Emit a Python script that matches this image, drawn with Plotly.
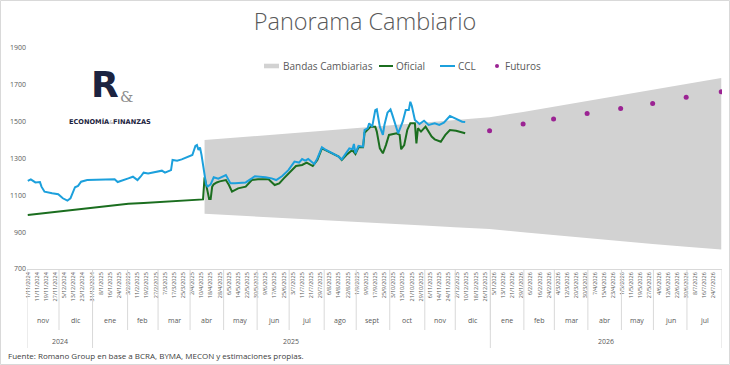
import numpy as np
import plotly.graph_objects as go

# ---------------- DATA ----------------
start_day = "2024-11-01"

tick_labels = [
    "1/11/2024", "11/11/2024", "19/11/2024", "27/11/2024", "5/12/2024", "13/12/2024", "23/12/2024", "31/12/2024",
    "8/1/2025", "16/1/2025", "24/1/2025", "3/2/2025", "11/2/2025", "19/2/2025", "27/2/2025", "7/3/2025",
    "17/3/2025", "25/3/2025", "2/4/2025", "10/4/2025", "18/4/2025", "28/4/2025", "6/5/2025", "14/5/2025",
    "22/5/2025", "30/5/2025", "9/6/2025", "17/6/2025", "25/6/2025", "3/7/2025", "11/7/2025", "21/7/2025",
    "29/7/2025", "6/8/2025", "14/8/2025", "22/8/2025", "1/9/2025", "9/9/2025", "17/9/2025", "25/9/2025",
    "3/10/2025", "13/10/2025", "21/10/2025", "29/10/2025", "6/11/2025", "14/11/2025", "24/11/2025", "2/12/2025",
    "10/12/2025", "18/12/2025", "26/12/2025", "5/1/2026", "13/1/2026", "21/1/2026", "29/1/2026", "6/2/2026",
    "16/2/2026", "24/2/2026", "4/3/2026", "12/3/2026", "20/3/2026", "30/3/2026", "7/4/2026", "15/4/2026",
    "23/4/2026", "1/5/2026", "11/5/2026", "19/5/2026", "27/5/2026", "4/6/2026", "12/6/2026", "22/6/2026",
    "30/6/2026", "8/7/2026", "16/7/2026", "24/7/2026",
]

month_labels = ["nov", "dic", "ene", "feb", "mar", "abr", "may", "jun", "jul", "ago", "sept", "oct",
                "nov", "dic", "ene", "feb", "mar", "abr", "may", "jun", "jul"]
month_starts = ["2024-11-01", "2024-12-01", "2025-01-01", "2025-02-01", "2025-03-01", "2025-04-01",
                "2025-05-01", "2025-06-01", "2025-07-01", "2025-08-01", "2025-09-01", "2025-10-01",
                "2025-11-01", "2025-12-01", "2026-01-01", "2026-02-01", "2026-03-01", "2026-04-01",
                "2026-05-01", "2026-06-01", "2026-07-01"]
axis_end = "2026-08-01"
year_labels = ["2024", "2025", "2026"]
year_starts = ["2024-11-01", "2025-01-01", "2026-01-01"]

oficial_dates = [
    "2024-11-01", "2024-11-15", "2024-12-02", "2024-12-16", "2025-01-02", "2025-01-16", "2025-02-03",
    "2025-02-17", "2025-03-03", "2025-03-17", "2025-04-01", "2025-04-11",
    "2025-04-14", "2025-04-15", "2025-04-16", "2025-04-17", "2025-04-18", "2025-04-21", "2025-04-22",
    "2025-04-24", "2025-04-28", "2025-05-02", "2025-05-06", "2025-05-08", "2025-05-14", "2025-05-21",
    "2025-05-27", "2025-06-02", "2025-06-11", "2025-06-17", "2025-06-20", "2025-06-25", "2025-06-30",
    "2025-07-07", "2025-07-11", "2025-07-16", "2025-07-22", "2025-07-25", "2025-07-30", "2025-08-08",
    "2025-08-14", "2025-08-18", "2025-08-21", "2025-08-27", "2025-08-29", "2025-09-02", "2025-09-05",
    "2025-09-08", "2025-09-10", "2025-09-12", "2025-09-17", "2025-09-18", "2025-09-22", "2025-09-24",
    "2025-09-26", "2025-09-30", "2025-10-07", "2025-10-09", "2025-10-10", "2025-10-14", "2025-10-16",
    "2025-10-20", "2025-10-23", "2025-10-24", "2025-10-27", "2025-10-29", "2025-11-03", "2025-11-07",
    "2025-11-11", "2025-11-17", "2025-11-20", "2025-11-25", "2025-12-01", "2025-12-05", "2025-12-09",
]
oficial_values = [
    993, 1002, 1013, 1022, 1035, 1044, 1054, 1059, 1064, 1069, 1074, 1078,
    1198, 1165, 1120, 1080, 1080, 1147, 1160, 1170, 1176, 1183, 1156, 1120, 1138, 1147,
    1183, 1187, 1187, 1156, 1165, 1192, 1219, 1259, 1265, 1278, 1259, 1292, 1355, 1324,
    1310, 1292, 1319, 1346, 1324, 1361, 1361, 1440, 1458, 1473, 1473, 1446, 1355, 1328,
    1373, 1428, 1437, 1428, 1350, 1373, 1455, 1491, 1491, 1382, 1464, 1446, 1473, 1419,
    1404, 1391, 1428, 1455, 1451, 1440, 1437,
]

ccl_dates = [
    "2024-11-01", "2024-11-05", "2024-11-08", "2024-11-13", "2024-11-14", "2024-11-18", "2024-11-25",
    "2024-11-29", "2024-12-04", "2024-12-09", "2024-12-11", "2024-12-12", "2024-12-16", "2024-12-18",
    "2024-12-20", "2024-12-26", "2025-01-03", "2025-01-13", "2025-01-21", "2025-01-23", "2025-01-28",
    "2025-02-03", "2025-02-06", "2025-02-11", "2025-02-13", "2025-02-17", "2025-02-20", "2025-02-27",
    "2025-03-05", "2025-03-07", "2025-03-13", "2025-03-14", "2025-03-19", "2025-03-24", "2025-03-28",
    "2025-04-02", "2025-04-04", "2025-04-07", "2025-04-08", "2025-04-09", "2025-04-10", "2025-04-11",
    "2025-04-14", "2025-04-15", "2025-04-16", "2025-04-18", "2025-04-22", "2025-04-25", "2025-05-02",
    "2025-05-06", "2025-05-07", "2025-05-12", "2025-05-21", "2025-05-27", "2025-05-29", "2025-06-09",
    "2025-06-13", "2025-06-18", "2025-06-24", "2025-06-30", "2025-07-04", "2025-07-09", "2025-07-11",
    "2025-07-15", "2025-07-17", "2025-07-23", "2025-07-25", "2025-07-30", "2025-08-01", "2025-08-08",
    "2025-08-14", "2025-08-18", "2025-08-20", "2025-08-25", "2025-08-27", "2025-08-28", "2025-08-29",
    "2025-09-02", "2025-09-05", "2025-09-08", "2025-09-10", "2025-09-11", "2025-09-15", "2025-09-17",
    "2025-09-18", "2025-09-22", "2025-09-24", "2025-09-25", "2025-09-29", "2025-10-01", "2025-10-02",
    "2025-10-06", "2025-10-08", "2025-10-13", "2025-10-15", "2025-10-17", "2025-10-20", "2025-10-21",
    "2025-10-23", "2025-10-28", "2025-10-31", "2025-11-05", "2025-11-11", "2025-11-14", "2025-11-19",
    "2025-11-25", "2025-11-27", "2025-12-02", "2025-12-05", "2025-12-09",
]
ccl_values = [
    1179, 1187, 1170, 1172, 1147, 1120, 1111, 1106, 1084, 1071, 1084, 1102, 1144, 1151,
    1174, 1183, 1183, 1187, 1187, 1172, 1179, 1192, 1201, 1183, 1201, 1223, 1219, 1228,
    1234, 1223, 1237, 1292, 1288, 1295, 1310, 1319, 1368, 1373, 1346, 1360, 1320, 1260,
    1195, 1160, 1148, 1160, 1198, 1190, 1210, 1183, 1165, 1165, 1170, 1192, 1204, 1198,
    1192, 1183, 1205, 1237, 1283, 1278, 1297, 1288, 1297, 1270, 1300, 1361, 1350, 1328,
    1310, 1295, 1319, 1355, 1350, 1379, 1328, 1368, 1364, 1455, 1464, 1491, 1473, 1563,
    1567, 1473, 1428, 1482, 1549, 1567, 1542, 1491, 1437, 1500, 1563, 1563, 1608, 1585,
    1509, 1487, 1505, 1482, 1491, 1482, 1494, 1531, 1524, 1513, 1500, 1498,
]

band_dates = ["2025-04-14", "2025-04-30", "2025-05-30", "2025-06-30", "2025-07-31", "2025-08-29",
              "2025-09-30", "2025-10-31", "2025-11-28", "2025-12-31", "2026-01-30", "2026-02-27",
              "2026-03-31", "2026-04-30", "2026-05-29", "2026-06-30", "2026-07-31"]
band_upper = [1400, 1407, 1421, 1436, 1451, 1465, 1479, 1494, 1508, 1524, 1553, 1582, 1612, 1642,
              1673, 1705, 1737]
band_lower = [1000, 995, 985, 975, 965, 956, 946, 936, 927, 917, 900, 884, 868, 852, 836, 821, 806]

futuros_dates = ["2025-12-31", "2026-01-30", "2026-02-27", "2026-03-31", "2026-04-30", "2026-05-29",
                 "2026-06-30", "2026-07-31"]
futuros_values = [1451, 1487, 1514, 1545, 1572, 1599, 1632, 1662]

y_ticks = [700, 900, 1100, 1300, 1500, 1700, 1900]

series_names = ["Bandas Cambiarias", "Oficial", "CCL", "Futuros"]
series_colors = ["#D2D2D2", "#1B6E1F", "#1CA0DC", "#9B2393"]


# ---------------- HELPERS ----------------
def bidx(dates):
    """Position on the weekday category axis (one slot per weekday)."""
    return np.busday_count(np.datetime64(start_day), np.array(dates, dtype="datetime64[D]"))


def parse_dmy(s):
    d, m, y = s.split("/")
    return f"{y}-{int(m):02d}-{int(d):02d}"


tick_vals = bidx([parse_dmy(s) for s in tick_labels])
n_slots = int(bidx([axis_end])[0])  # number of weekday categories

GREY_TXT = "#595959"
AX_LINE = "#D9D9D9"

# plot area geometry in pixels
W, H = 730, 365
ML, MR, MT, MB = 27, 8, 48, 96
PW, PH = W - ML - MR, H - MT - MB


def px_x(px):
    return (px - ML) / PW


def px_y(py):
    return (H - MB - py) / PH


C_BAND, C_OF, C_CCL, C_FUT = series_colors

fig = go.Figure()

# Bands (lower invisible, upper filled down to it)
fig.add_trace(go.Scatter(x=bidx(band_dates), y=band_lower, mode="lines",
                         line=dict(width=0, color=C_BAND), showlegend=False, hoverinfo="skip"))
fig.add_trace(go.Scatter(x=bidx(band_dates), y=band_upper, mode="lines", fill="tonexty",
                         fillcolor=C_BAND, line=dict(width=0, color=C_BAND),
                         name=series_names[0], showlegend=False))
fig.add_trace(go.Scatter(x=bidx(oficial_dates), y=oficial_values, mode="lines",
                         line=dict(color=C_OF, width=2), name=series_names[1], showlegend=False))
fig.add_trace(go.Scatter(x=bidx(ccl_dates), y=ccl_values, mode="lines",
                         line=dict(color=C_CCL, width=2), name=series_names[2], showlegend=False))
fig.add_trace(go.Scatter(x=bidx(futuros_dates), y=futuros_values, mode="markers",
                         marker=dict(color=C_FUT, size=5), name=series_names[3], showlegend=False))

shapes = []
annotations = []

# month separators + labels
m_first = bidx(month_starts)
m_next = list(m_first[1:]) + [n_slots]
for lab, f, nx in zip(month_labels, m_first, m_next):
    annotations.append(dict(x=(f + nx - 1) / 2, y=px_y(320), xref="x", yref="paper", text=lab,
                            xanchor="center", yanchor="middle",
                            showarrow=False, font=dict(size=7, color=GREY_TXT)))
for f in m_first[1:]:
    shapes.append(dict(type="line", xref="x", yref="paper", x0=f - 0.5, x1=f - 0.5,
                       y0=px_y(269), y1=px_y(330), line=dict(color=AX_LINE, width=1)))

# year separators + labels
y_first = bidx(year_starts)
y_next = list(y_first[1:]) + [n_slots]
for lab, f, nx in zip(year_labels, y_first, y_next):
    annotations.append(dict(x=(f + nx - 1) / 2, y=px_y(341), xref="x", yref="paper", text=lab,
                            xanchor="center", yanchor="middle",
                            showarrow=False, font=dict(size=7, color=GREY_TXT)))
for f in list(y_first) + [n_slots]:
    shapes.append(dict(type="line", xref="x", yref="paper", x0=f - 0.5, x1=f - 0.5,
                       y0=px_y(269), y1=px_y(348), line=dict(color=AX_LINE, width=1)))

# legend (drawn as swatches + text, laid out like the original)
LEG_Y = 66
leg_items = [  # (kind, swatch x0, swatch x1, text left)
    ("box", 264, 279, 281),
    ("line", 379, 393, 393.5),
    ("line", 440, 455, 456),
    ("dot", 495, 499, 503),
]
for (kind, sx0, sx1, tx), name, col in zip(leg_items, series_names, series_colors):
    if kind == "box":
        shapes.append(dict(type="rect", xref="paper", yref="paper", x0=px_x(sx0), x1=px_x(sx1),
                           y0=px_y(LEG_Y + 2.3), y1=px_y(LEG_Y - 2.3), fillcolor=col, line=dict(width=0)))
    elif kind == "line":
        shapes.append(dict(type="line", xref="paper", yref="paper", x0=px_x(sx0), x1=px_x(sx1),
                           y0=px_y(LEG_Y), y1=px_y(LEG_Y), line=dict(color=col, width=2)))
    else:
        shapes.append(dict(type="circle", xref="paper", yref="paper", x0=px_x(sx0), x1=px_x(sx1),
                           y0=px_y(LEG_Y + 2), y1=px_y(LEG_Y - 2), fillcolor=col, line=dict(width=0)))
    annotations.append(dict(x=px_x(tx), y=px_y(LEG_Y), xref="paper", yref="paper", text=name,
                            xanchor="left", yanchor="middle", showarrow=False,
                            font=dict(size=10, color=GREY_TXT)))

# chart border
shapes.append(dict(type="rect", xref="paper", yref="paper", x0=px_x(0.5), x1=px_x(729.5),
                   y0=px_y(364.5), y1=px_y(0.5), line=dict(color=AX_LINE, width=1)))

# logo
annotations.append(dict(x=px_x(105), y=px_y(84.5), xref="paper", yref="paper", text="<b>R</b>",
                        xanchor="center", yanchor="middle",
                        showarrow=False, font=dict(family="DejaVu Sans", size=36, color="#1C2340")))
annotations.append(dict(x=px_x(126.5), y=px_y(97), xref="paper", yref="paper", text="&amp;",
                        xanchor="center", yanchor="middle",
                        showarrow=False, font=dict(family="DejaVu Serif", size=15, color="#8C8C8C")))
annotations.append(dict(x=px_x(110), y=px_y(121.5), xref="paper", yref="paper",
                        xanchor="center", yanchor="middle",
                        text="<b>ECONOMÍA</b><span style='font-size:5px;color:#9A9A9A'>&amp;</span><b>FINANZAS</b>",
                        showarrow=False, font=dict(family="DejaVu Sans", size=6.6, color="#1C2340")))

# footnote
annotations.append(dict(x=px_x(6), y=px_y(355), xref="paper", yref="paper", xanchor="left",
                        yanchor="middle",
                        text="Fuente: Romano Group en base a BCRA, BYMA, MECON y estimaciones propias.",
                        showarrow=False, font=dict(family="Open Sans", size=8, color="#404040")))

fig.update_layout(
    width=W, height=H,
    margin=dict(l=ML, r=MR, t=MT, b=MB, autoexpand=False),
    paper_bgcolor="white", plot_bgcolor="white",
    font=dict(family="Open Sans", color=GREY_TXT),
    title=dict(text="Panorama Cambiario", x=0.5, xref="container", xanchor="center",
               y=1 - 22 / H, yref="container", yanchor="middle",
               font=dict(family="Open Sans", size=23.5, color=GREY_TXT, weight=300)),
    xaxis=dict(range=[-0.5, n_slots - 0.5], tickmode="array", tickvals=tick_vals, ticktext=tick_labels,
               tickangle=-90, tickfont=dict(size=5.5, color=GREY_TXT), showgrid=False, zeroline=False,
               showline=True, linecolor=AX_LINE, linewidth=1, ticks=""),
    yaxis=dict(range=[700, 1900], tickmode="array", tickvals=y_ticks, showgrid=False, zeroline=False,
               showline=False, tickfont=dict(size=7, color=GREY_TXT), ticks=""),
    shapes=shapes,
    annotations=annotations,
    showlegend=False,
)

fig.write_html("out.html", config={"displayModeBar": False},
               post_script="document.body.style.margin='0px';document.body.style.overflow='hidden';")
